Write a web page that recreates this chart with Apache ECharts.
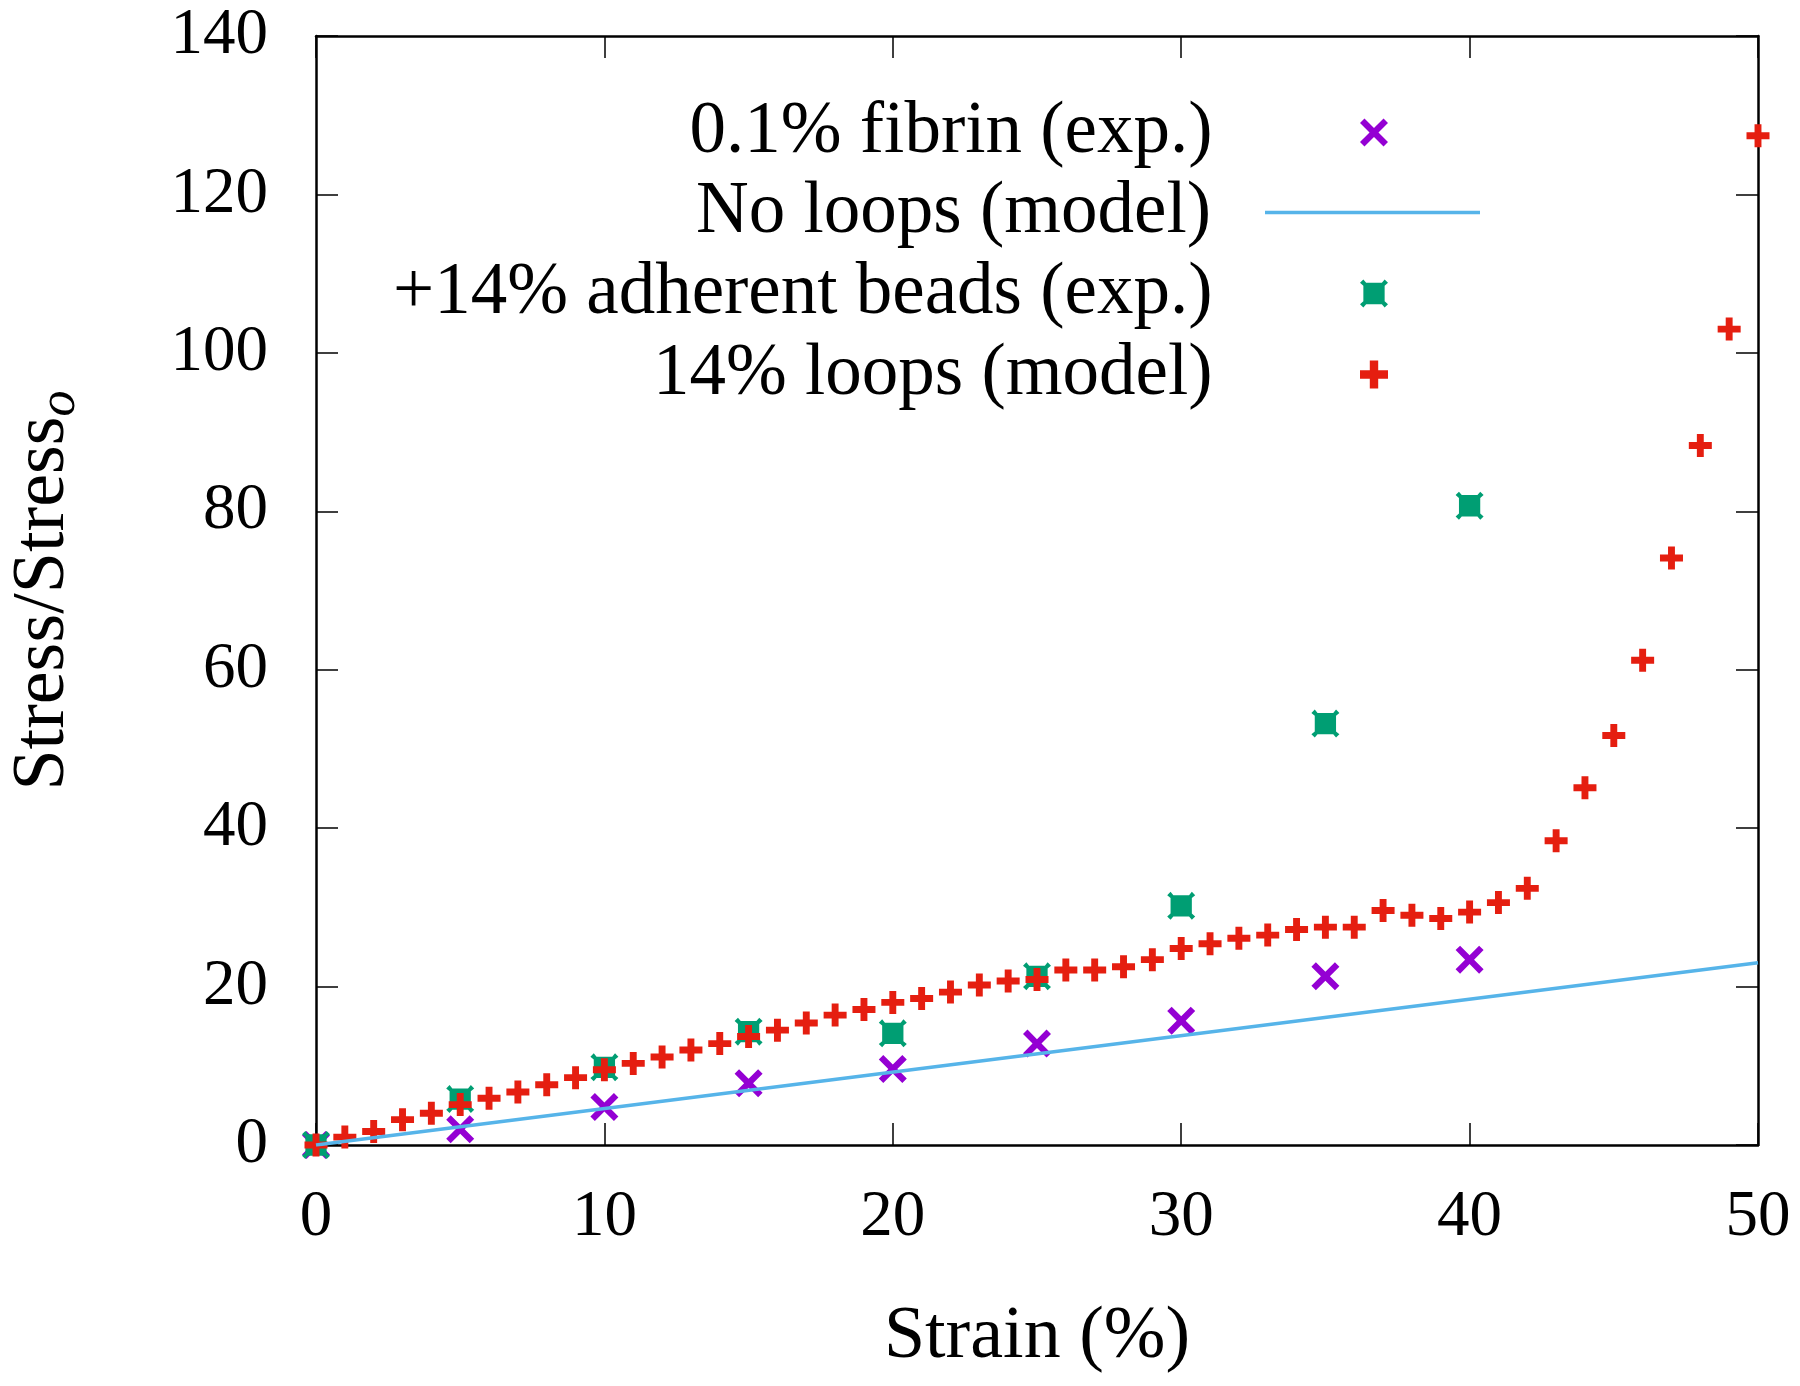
<!DOCTYPE html>
<html>
<head>
<meta charset="utf-8">
<script src="https://cdn.jsdelivr.net/npm/echarts@6/dist/echarts.min.js"></script>
<style>
  html, body { margin: 0; padding: 0; background: #fff; }
  #chart { width: 1800px; height: 1386px; }
</style>
</head>
<body>
<div id="chart"></div>
<script>
// strain (%) for the experiments
const expStrain = [0, 5, 10, 15, 20, 25, 30, 35, 40];
const fibrinStress = [0, 2.0, 4.8, 7.8, 9.6, 12.8, 15.7, 21.3, 23.4];
const beadsStress = [0, 5.8, 9.8, 14.3, 14.1, 21.3, 30.2, 53.2, 80.7];

// straight model line, no loops
const noLoopsStrain = [0, 50];
const noLoopsStress = [0, 23.0];

// 14% loops model
const loopsStrain = [0, 1, 2, 3, 4, 5, 6, 7, 8, 9, 10, 11, 12, 13, 14, 15, 16, 17, 18, 19, 20,
    21, 22, 23, 24, 25, 26, 27, 28, 29, 30, 31, 32, 33, 34, 35, 36, 37, 38, 39, 40,
    41, 42, 43, 44, 45, 46, 47, 48, 49, 50];
const loopsStress = [0, 1.0, 1.7, 3.2, 4.0, 5.1, 5.9, 6.7, 7.6, 8.5, 9.5, 10.3, 11.1, 12.0, 12.8,
    13.7, 14.5, 15.4, 16.4, 17.1, 18.0, 18.5, 19.3, 20.2, 20.7, 20.9, 22.1, 22.1, 22.5, 23.4, 24.8,
    25.4, 26.1, 26.5, 27.2, 27.5, 27.5, 29.6, 29.0, 28.6, 29.4, 30.6, 32.4, 38.4, 45.1, 51.7,
    61.2, 74.1, 88.3, 103.0, 127.4];

const xTicks = [0, 10, 20, 30, 40, 50];
const yTicks = [0, 20, 40, 60, 80, 100, 120, 140];

const seriesNames = ['0.1% fibrin (exp.)', 'No loops (model)', '+14% adherent beads (exp.)', '14% loops (model)'];

const FONT = '"Liberation Serif", "DejaVu Serif", serif';

const plusPath = 'path://M3.5,0H6.5V3.5H10V6.5H6.5V10H3.5V6.5H0V3.5H3.5Z';
const crossPath = 'path://M0,1.6L1.6,0L5,3.4L8.4,0L10,1.6L6.6,5L10,8.4L8.4,10L5,6.6L1.6,10L0,8.4L3.4,5Z';
const beadPath = 'path://M0,1.2L1.2,0L2.2,1.2H7.8L8.8,0L10,1.2L8.8,2.2V7.8L10,8.8L8.8,10L7.8,8.8H2.2L1.2,10L0,8.8L1.2,7.8V2.2Z';
const linePath = 'path://M0,0H100V1.6H0Z';

function zip(xs, ys) {
    return xs.map((x, i) => [x, ys[i]]);
}

const chart = echarts.init(document.getElementById('chart'));

const legendTops = [96, 176, 257, 338];
const legendRight = [412, 320, 412, 412];
const legends = seriesNames.map((n, i) => ({
    data: i == 1 ? [{ name: n, icon: linePath }] : [n],
    right: legendRight[i],
    top: legendTops[i],
    padding: 0,
    align: 'right',
    itemWidth: 215,
    itemHeight: 28,
    selectedMode: false,
    textStyle: { fontFamily: FONT, fontSize: 73, color: '#000', padding: [0, 49, 0, 0] }
}));

const axisCommon = {
    type: 'value',
    axisLine: { show: true, onZero: false, lineStyle: { color: '#000', width: 2.5 } },
    axisTick: { show: true, inside: true, length: 22, lineStyle: { color: '#000', width: 1.5 } },
    splitLine: { show: false }
};

option = {
    animation: false,
    backgroundColor: '#fff',
    grid: { left: 316, right: 42, top: 36, bottom: 241, containLabel: false, outerBoundsMode: 'none' },
    legend: legends,
    xAxis: [
        Object.assign({}, axisCommon, {
            min: xTicks[0], max: xTicks[xTicks.length - 1], interval: 10,
            position: 'bottom',
            axisLabel: { fontFamily: FONT, fontSize: 65, color: '#000', margin: 40 },
            name: 'Strain (%)',
            nameLocation: 'middle',
            nameGap: 156,
            nameTextStyle: { fontFamily: FONT, fontSize: 74, color: '#000' }
        }),
        Object.assign({}, axisCommon, {
            min: xTicks[0], max: xTicks[xTicks.length - 1], interval: 10,
            position: 'top',
            axisLabel: { show: false }
        })
    ],
    yAxis: [
        Object.assign({}, axisCommon, {
            min: yTicks[0], max: yTicks[yTicks.length - 1], interval: 20,
            position: 'left',
            axisLabel: { fontFamily: FONT, fontSize: 65, color: '#000', margin: 48 },
            name: 'Stress/Stress{sub|o}',
            nameLocation: 'middle',
            nameRotate: 90,
            nameGap: 230,
            nameTextStyle: {
                fontFamily: FONT, fontSize: 74, color: '#000',
                rich: { sub: { fontFamily: FONT, fontSize: 52, color: '#000', fontStyle: 'italic', padding: [32, 0, 0, 0] } }
            }
        }),
        Object.assign({}, axisCommon, {
            min: yTicks[0], max: yTicks[yTicks.length - 1], interval: 20,
            position: 'right',
            axisLabel: { show: false }
        })
    ],
    series: [
        {
            name: seriesNames[0],
            type: 'scatter',
            data: zip(expStrain, fibrinStress),
            symbol: crossPath,
            symbolSize: 28,
            itemStyle: { color: '#9400d3', opacity: 1 }
        },
        {
            name: seriesNames[1],
            type: 'line',
            data: zip(noLoopsStrain, noLoopsStress),
            symbol: 'none',
            lineStyle: { color: '#56b4e9', width: 3.5 },
            itemStyle: { color: '#56b4e9' }
        },
        {
            name: seriesNames[2],
            type: 'scatter',
            data: zip(expStrain, beadsStress),
            symbol: beadPath,
            symbolSize: 28,
            itemStyle: { color: '#009e73', opacity: 1 }
        },
        {
            name: seriesNames[3],
            type: 'scatter',
            data: zip(loopsStrain, loopsStress),
            symbol: plusPath,
            symbolSize: 23,
            itemStyle: { color: '#e51e10', opacity: 1 }
        }
    ]
};

chart.setOption(option);
</script>
</body>
</html>
